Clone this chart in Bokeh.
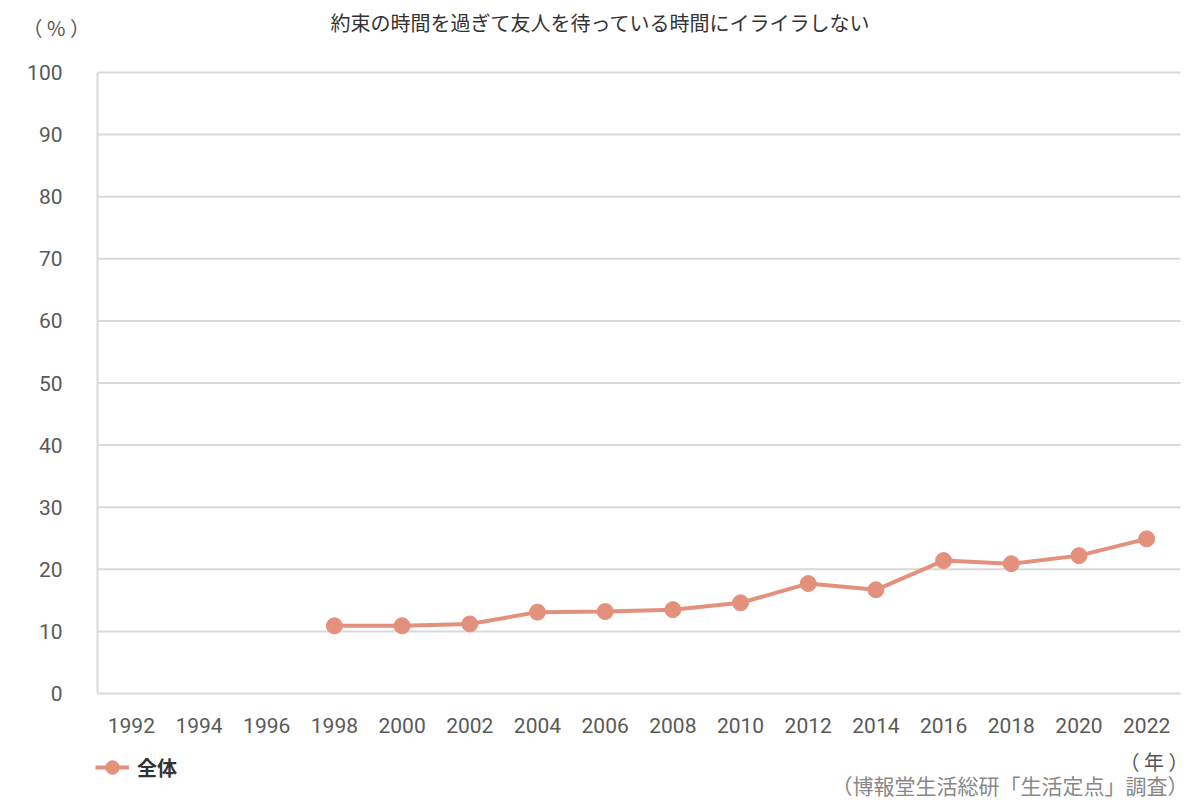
from bokeh.plotting import figure
from bokeh.models import Label, Range1d, Legend, LegendItem, FixedTicker
from bokeh.embed import file_html
from bokeh.resources import INLINE

years = [1998, 2000, 2002, 2004, 2006, 2008, 2010, 2012, 2014, 2016, 2018, 2020, 2022]
values = [10.9, 10.9, 11.2, 13.1, 13.2, 13.5, 14.6, 17.7, 16.7, 21.4, 20.9, 22.2, 24.9]
x_ticks = list(range(1992, 2023, 2))
y_ticks = list(range(0, 101, 10))
series_name = "全体"
title_text = "約束の時間を過ぎて友人を待っている時間にイライラしない"
y_unit = "（ % ）"
x_unit = "（ 年 ）"
source_text = "（博報堂生活総研「生活定点」調査）"

COLOR = "#E3917D"
GRID = "#d9d9d9"
JP = "Noto Sans CJK JP"
NUM = "Roboto"

# plot region: x 1991..2023, y 0..100; the frame covers the whole canvas so that
# all texts (title, units, legend, source) can sit inside it without clipping.
X0, X1 = 1991, 2023
W, H = 1200, 800
L, R, T, B = 97, 1180, 72, 693
xs = (R - L) / (X1 - X0)
ys = (B - T) / 100.0
x_range = Range1d(X0 - L / xs, X1 + (W - R) / xs)
y_range = Range1d(-(H - B) / ys, B / ys)

p = figure(width=W, height=H, output_backend="svg", toolbar_location=None,
           x_range=x_range, y_range=y_range,
           min_border_left=0, min_border_right=0, min_border_top=0, min_border_bottom=0)
p.outline_line_color = None
p.background_fill_color = "white"
p.border_fill_color = "white"
p.grid.visible = False

# horizontal grid lines from the tick list
p.segment(x0=[X0] * (len(y_ticks) - 1), x1=[X1] * (len(y_ticks) - 1),
          y0=y_ticks[1:], y1=y_ticks[1:], line_color=GRID, line_width=2)

p.yaxis.fixed_location = X0
p.yaxis.bounds = (0, 100)
p.yaxis.ticker = FixedTicker(ticks=y_ticks)
p.yaxis.axis_line_color = GRID
p.yaxis.axis_line_width = 2
p.yaxis.major_tick_line_color = None
p.yaxis.minor_tick_line_color = None
p.yaxis.major_label_standoff = 29
p.yaxis.major_label_text_font = NUM
p.yaxis.major_label_text_font_size = "21px"
p.yaxis.major_label_text_color = "#595959"

p.xaxis.fixed_location = 0
p.xaxis.bounds = (X0, X1)
p.xaxis.ticker = FixedTicker(ticks=x_ticks)
p.xaxis.axis_line_color = GRID
p.xaxis.axis_line_width = 2
p.xaxis.major_tick_line_color = None
p.xaxis.minor_tick_line_color = None
p.xaxis.major_label_standoff = 18
p.xaxis.major_label_text_font = NUM
p.xaxis.major_label_text_font_size = "21px"
p.xaxis.major_label_text_color = "#595959"

ln = p.line(years, values, line_color=COLOR, line_width=4)
sc = p.scatter(years, values, size=16, fill_color=COLOR, line_color=COLOR)

legend = Legend(items=[LegendItem(label=series_name, renderers=[ln, sc])],
                location=(95, 15), orientation="horizontal",
                border_line_color=None, background_fill_alpha=0,
                padding=0, margin=0, glyph_width=34, glyph_height=36,
                label_standoff=8, label_text_font=JP, label_text_font_size="20px",
                label_text_font_style="bold", label_text_color="#333333")
p.add_layout(legend, "center")

def lab(text, xp, yp, size, color, align="left"):
    p.add_layout(Label(x=xp, y=H - yp, x_units="screen", y_units="screen", text=text,
                       text_font=JP, text_font_size=size,
                       text_color=color, text_align=align, text_baseline="middle"))

lab(title_text, 600, 22, "20px", "#333333", "center")
lab(y_unit, 22, 27, "20px", "#555555", "left")
lab(x_unit, 1188, 761, "20px", "#555555", "right")
lab(source_text, 1188, 784, "21px", "#888888", "right")

open("out.html", "w").write(file_html(p, INLINE))
